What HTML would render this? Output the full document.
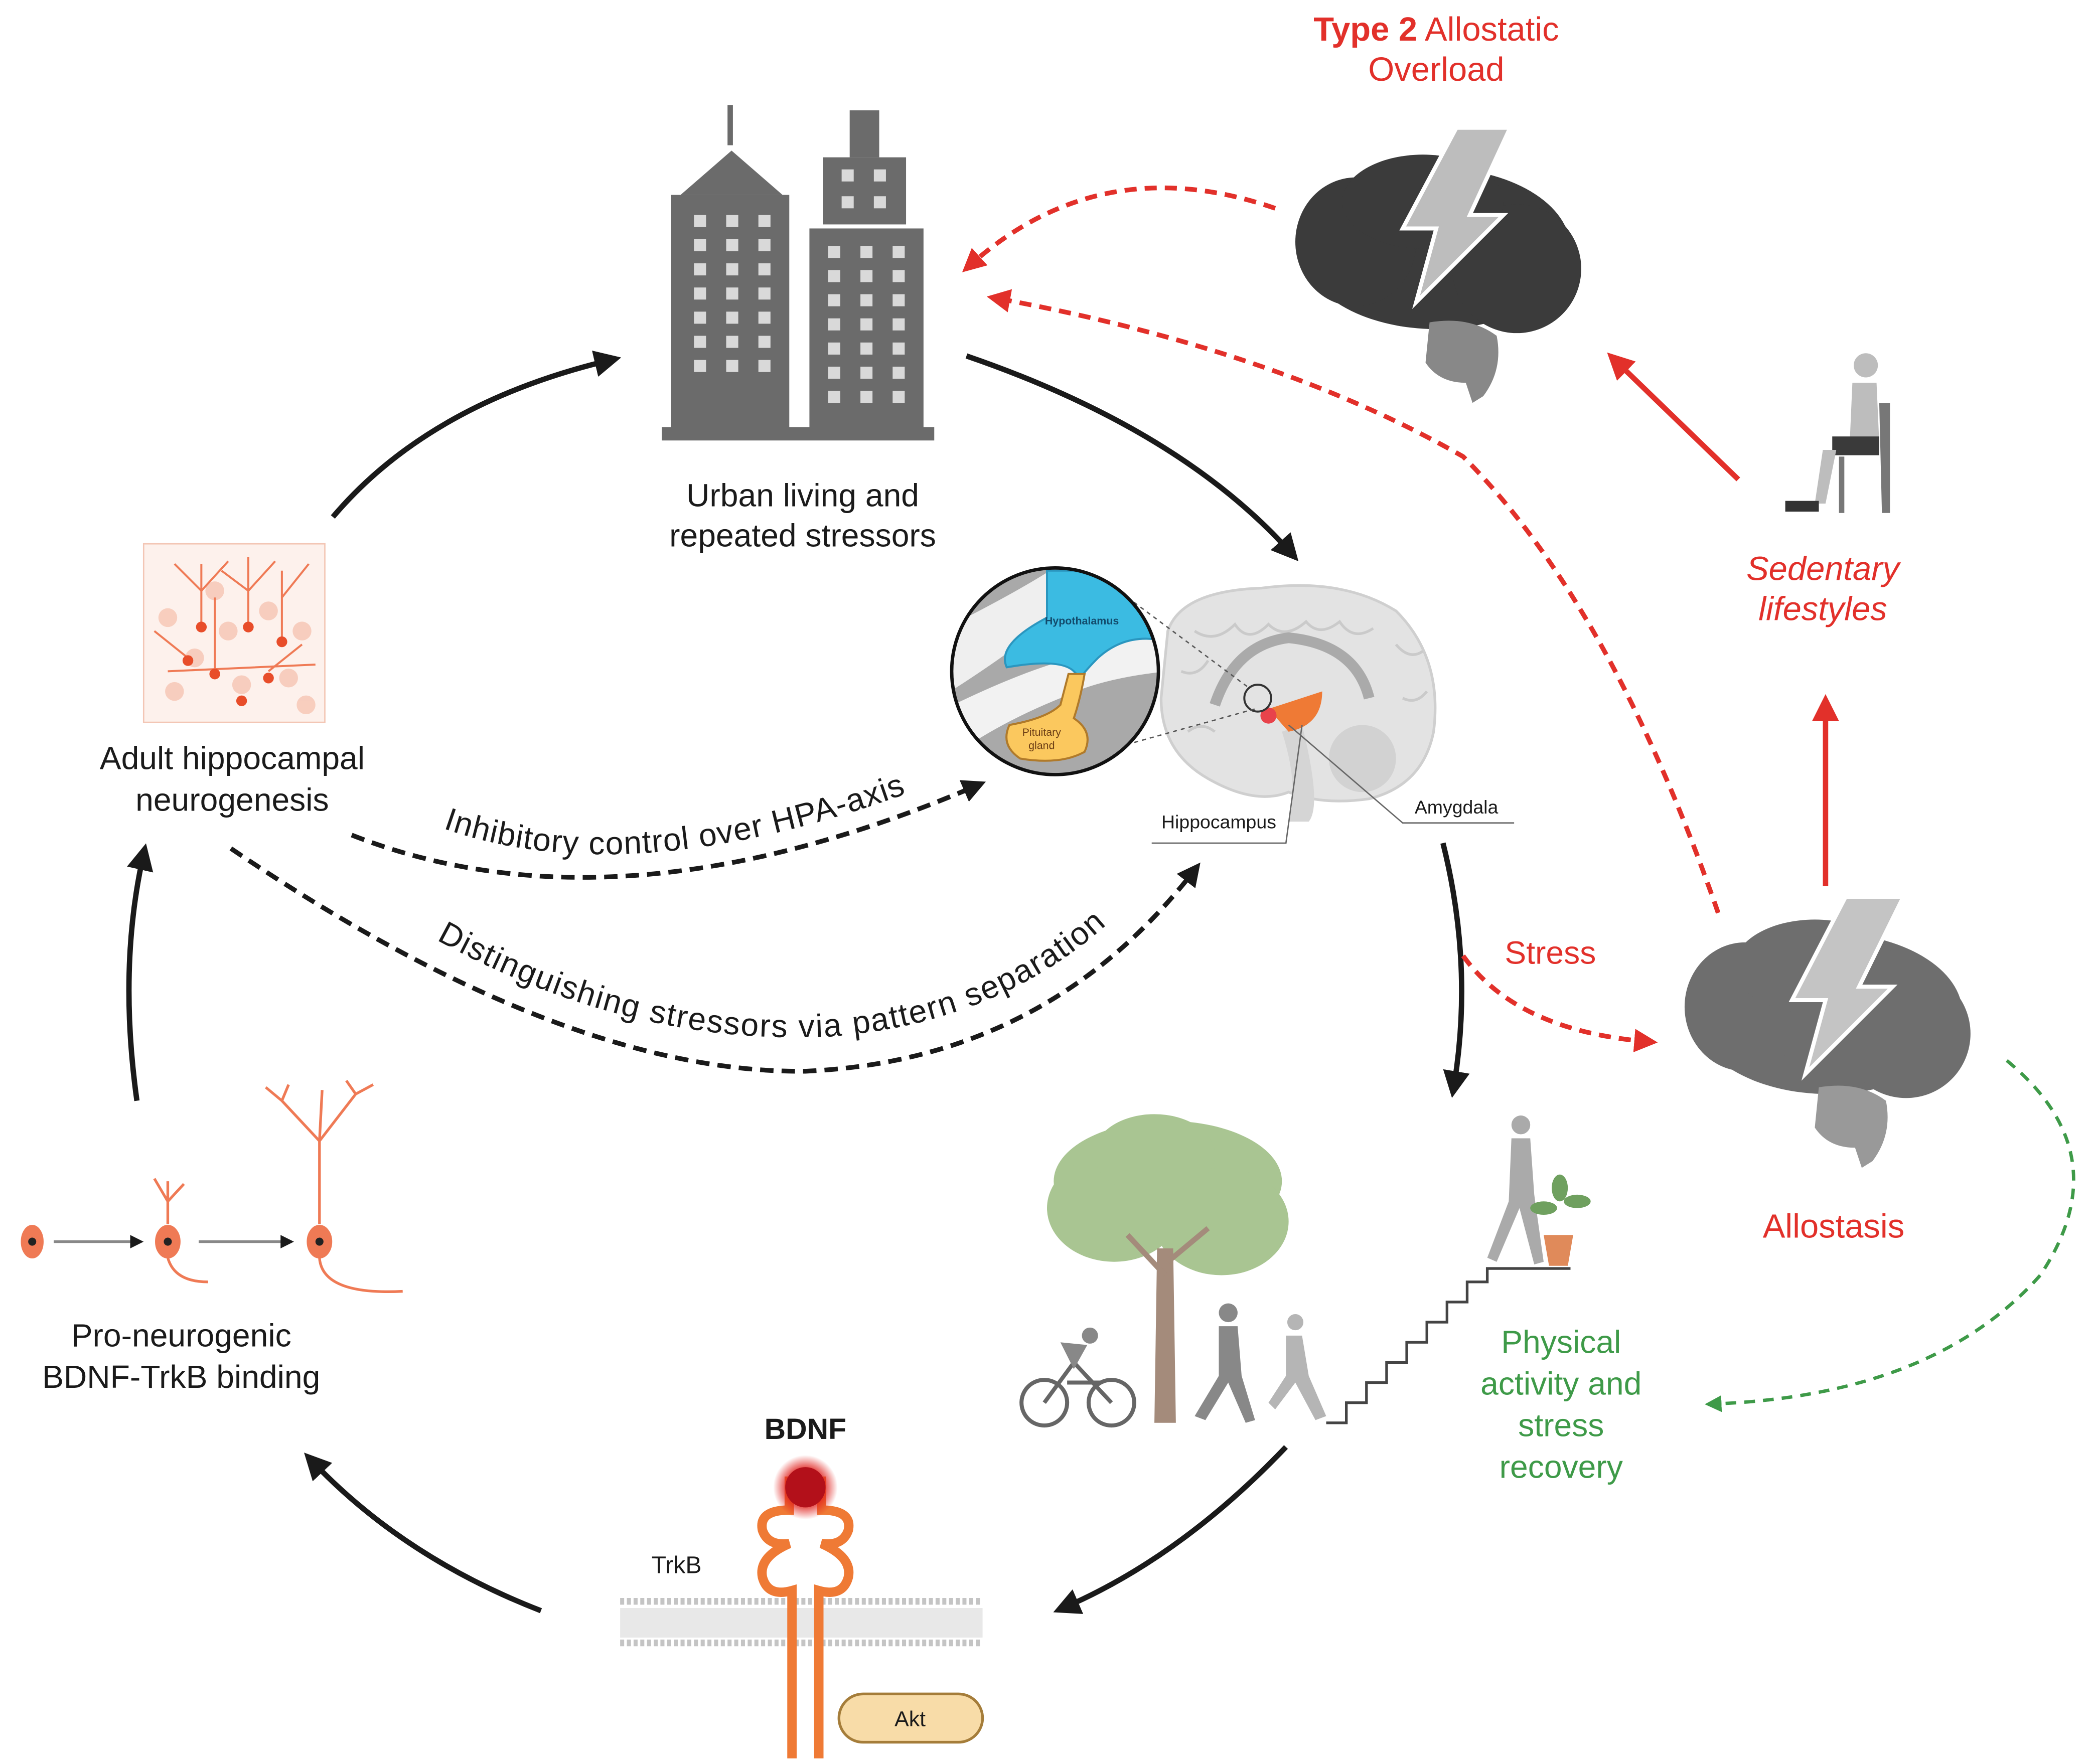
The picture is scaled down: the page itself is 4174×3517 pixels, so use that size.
<!DOCTYPE html>
<html><head><meta charset="utf-8"><style>
html,body{margin:0;padding:0;background:#fff;}
svg{display:block;}
text{font-family:"Liberation Sans",sans-serif;}
</style></head><body>
<svg width="4174" height="3517" viewBox="0 0 1560 1314" xmlns="http://www.w3.org/2000/svg">
<defs>
<marker id="ab" viewBox="0 0 10 10" refX="6" refY="5" markerWidth="5" markerHeight="5" orient="auto"><path d="M0,0 L10,5 L0,10 z" fill="#1a1a1a"/></marker>
<marker id="ar" viewBox="0 0 10 10" refX="6" refY="5" markerWidth="5" markerHeight="5" orient="auto"><path d="M0,0 L10,5 L0,10 z" fill="#e2302a"/></marker>
<marker id="ag" viewBox="0 0 10 10" refX="6" refY="5" markerWidth="5" markerHeight="5" orient="auto"><path d="M0,0 L10,5 L0,10 z" fill="#3e9a48"/></marker>
<radialGradient id="glow"><stop offset="0.5" stop-color="#e0201c"/><stop offset="1" stop-color="#e0201c" stop-opacity="0"/></radialGradient>
</defs>

<!-- title -->
<text x="1070" y="30" font-size="25" fill="#e2302a" text-anchor="middle"><tspan font-weight="bold">Type 2</tspan> Allostatic</text>
<text x="1070" y="60" font-size="25" fill="#e2302a" text-anchor="middle">Overload</text>

<!-- top dark brain -->
<g fill="#3b3b3b">
<ellipse cx="1070" cy="185" rx="100" ry="60"/>
<ellipse cx="1010" cy="180" rx="45" ry="48"/>
<ellipse cx="1130" cy="200" rx="48" ry="48"/>
<ellipse cx="1060" cy="150" rx="60" ry="35"/>
</g>
<path d="M1065,240 q30,-5 50,10 q5,25 -10,45 l-8,5 l-5,-15 q-20,0 -30,-15 z" fill="#888"/>
<path d="M1085,95 L1125,95 L1095,160 L1120,160 L1055,225 L1070,170 L1045,170 z" fill="#bdbdbd" stroke="#fff" stroke-width="3"/>

<!-- buildings -->
<g fill="#6b6b6b">
<rect x="542" y="78" width="4" height="30"/>
<polygon points="507,145 545,112 583,145"/>
<rect x="500" y="145" width="88" height="175"/>
<rect x="633" y="82" width="22" height="35"/>
<rect x="613" y="117" width="62" height="50"/>
<rect x="603" y="170" width="85" height="150"/>
<rect x="493" y="318" width="203" height="10"/>
</g>
<g fill="#d9d9d9">
<rect x="517" y="160" width="9" height="9"/><rect x="541" y="160" width="9" height="9"/><rect x="565" y="160" width="9" height="9"/>
<rect x="517" y="178" width="9" height="9"/><rect x="541" y="178" width="9" height="9"/><rect x="565" y="178" width="9" height="9"/>
<rect x="517" y="196" width="9" height="9"/><rect x="541" y="196" width="9" height="9"/><rect x="565" y="196" width="9" height="9"/>
<rect x="517" y="214" width="9" height="9"/><rect x="541" y="214" width="9" height="9"/><rect x="565" y="214" width="9" height="9"/>
<rect x="517" y="232" width="9" height="9"/><rect x="541" y="232" width="9" height="9"/><rect x="565" y="232" width="9" height="9"/>
<rect x="517" y="250" width="9" height="9"/><rect x="541" y="250" width="9" height="9"/><rect x="565" y="250" width="9" height="9"/>
<rect x="517" y="268" width="9" height="9"/><rect x="541" y="268" width="9" height="9"/><rect x="565" y="268" width="9" height="9"/>
<rect x="627" y="126" width="9" height="9"/><rect x="651" y="126" width="9" height="9"/>
<rect x="627" y="146" width="9" height="9"/><rect x="651" y="146" width="9" height="9"/>
<rect x="617" y="183" width="9" height="9"/><rect x="641" y="183" width="9" height="9"/><rect x="665" y="183" width="9" height="9"/>
<rect x="617" y="201" width="9" height="9"/><rect x="641" y="201" width="9" height="9"/><rect x="665" y="201" width="9" height="9"/>
<rect x="617" y="219" width="9" height="9"/><rect x="641" y="219" width="9" height="9"/><rect x="665" y="219" width="9" height="9"/>
<rect x="617" y="237" width="9" height="9"/><rect x="641" y="237" width="9" height="9"/><rect x="665" y="237" width="9" height="9"/>
<rect x="617" y="255" width="9" height="9"/><rect x="641" y="255" width="9" height="9"/><rect x="665" y="255" width="9" height="9"/>
<rect x="617" y="273" width="9" height="9"/><rect x="641" y="273" width="9" height="9"/><rect x="665" y="273" width="9" height="9"/>
<rect x="617" y="291" width="9" height="9"/><rect x="641" y="291" width="9" height="9"/><rect x="665" y="291" width="9" height="9"/>
</g>
<text x="598" y="377" font-size="24" fill="#1a1a1a" text-anchor="middle">Urban living and</text>
<text x="598" y="407" font-size="24" fill="#1a1a1a" text-anchor="middle">repeated stressors</text>

<!-- black cycle arrows -->
<g fill="none" stroke="#1a1a1a" stroke-width="4">
<path d="M248,385 Q320,300 455,268" marker-end="url(#ab)"/>
<path d="M720,265 Q880,320 962,412" marker-end="url(#ab)"/>
<path d="M1075,628 Q1098,720 1083,810" marker-end="url(#ab)"/>
<path d="M958,1078 Q880,1160 792,1198" marker-end="url(#ab)"/>
<path d="M403,1200 Q300,1160 232,1088" marker-end="url(#ab)"/>
<path d="M102,820 Q88,720 107,636" marker-end="url(#ab)"/>
</g>

<!-- neurogenesis box -->
<rect x="107" y="405" width="135" height="133" fill="#fdf1ec" stroke="#f3c6b5" stroke-width="1"/>
<g fill="#f6c5b3" opacity="0.8">
<circle cx="125" cy="460" r="7"/><circle cx="145" cy="490" r="7"/><circle cx="170" cy="470" r="7"/><circle cx="200" cy="455" r="7"/><circle cx="225" cy="470" r="7"/><circle cx="130" cy="515" r="7"/><circle cx="180" cy="510" r="7"/><circle cx="215" cy="505" r="7"/><circle cx="160" cy="440" r="7"/><circle cx="228" cy="525" r="7"/>
</g>
<g stroke="#ef7a55" stroke-width="1.5" fill="none">
<path d="M150,465 V420 M150,440 L130,420 M150,440 L170,418 M185,465 V415 M185,440 L205,418 M185,440 L165,425 M210,475 V425 M210,445 L230,420 M160,500 V445 M200,500 L225,480 M140,490 L115,470 M125,500 L235,495"/>
</g>
<g fill="#e84d2a"><circle cx="150" cy="467" r="4"/><circle cx="185" cy="467" r="4"/><circle cx="210" cy="478" r="4"/><circle cx="160" cy="502" r="4"/><circle cx="200" cy="505" r="4"/><circle cx="140" cy="492" r="4"/><circle cx="180" cy="522" r="4"/></g>
<text x="173" y="573" font-size="24" fill="#1a1a1a" text-anchor="middle">Adult hippocampal</text>
<text x="173" y="604" font-size="24" fill="#1a1a1a" text-anchor="middle">neurogenesis</text>

<!-- sagittal brain -->
<path d="M870,470 Q880,440 940,438 Q1000,430 1040,455 Q1075,490 1068,545 Q1060,585 1020,595 Q985,600 960,590 Q935,600 900,580 Q865,560 865,520 z" fill="#e3e3e3" stroke="#cfcfcf" stroke-width="2"/>
<g fill="none" stroke="#cacaca" stroke-width="2"><path d="M890,470 q15,10 30,-5 q10,15 25,0 q12,12 28,-2 q10,12 25,0 q10,15 25,5"/><path d="M880,500 q12,5 20,-8 M1040,480 q10,12 20,5 M1045,520 q10,5 18,-5 M885,545 q10,-8 20,0"/></g>
<path d="M905,525 Q920,480 960,475 Q1010,480 1020,520" fill="none" stroke="#aaa" stroke-width="8"/>
<path d="M970,540 Q985,600 975,612 L960,612 Q968,585 955,545 z" fill="#d5d5d5"/>
<ellipse cx="1015" cy="565" rx="25" ry="25" fill="#d2d2d2"/>
<path d="M945,528 L985,515 Q985,540 960,545 Z" fill="#ef7a35"/>
<circle cx="945" cy="533" r="6" fill="#e8434b"/>
<circle cx="937" cy="520" r="10" fill="none" stroke="#333" stroke-width="1.5"/>
<g stroke="#555" stroke-width="1" stroke-dasharray="3,3"><line x1="840" y1="445" x2="930" y2="512"/><line x1="845" y1="553" x2="935" y2="528"/></g>
<g stroke="#666" stroke-width="1" fill="none"><path d="M858,628 H958 L970,540"/><path d="M1128,613 H1045 L960,540"/></g>
<text x="908" y="617" font-size="14" fill="#1a1a1a" text-anchor="middle">Hippocampus</text>
<text x="1085" y="606" font-size="14" fill="#1a1a1a" text-anchor="middle">Amygdala</text>

<!-- inset circle -->
<clipPath id="cc"><circle cx="786" cy="500" r="77"/></clipPath>
<g clip-path="url(#cc)">
<rect x="700" y="420" width="170" height="170" fill="#a9a9a9"/>
<path d="M700,470 Q760,440 790,420 L830,420 Q780,470 700,520 z" fill="#efefef"/>
<path d="M700,530 Q760,500 800,490 Q830,480 870,470 L870,500 Q820,505 790,520 Q740,540 700,570z" fill="#f2f2f2"/>
<path d="M780,425 L870,425 L870,478 Q840,470 818,490 Q808,500 805,505 L800,500 Q790,490 750,497 Q742,480 780,460 z" fill="#3bbbe2" stroke="#2a96bf" stroke-width="1.5"/>
<path d="M796,502 L808,502 Q805,520 800,535 Q815,545 808,560 Q790,570 760,565 Q745,555 752,540 Q780,535 790,525 z" fill="#fbc85e" stroke="#b07a2a" stroke-width="1.5"/>
</g>
<circle cx="786" cy="500" r="77" fill="none" stroke="#111" stroke-width="2.5"/>
<text x="806" y="465" font-size="8" fill="#124a6b" font-weight="bold" text-anchor="middle">Hypothalamus</text>
<text x="776" y="548" font-size="8" fill="#6b3d14" text-anchor="middle">Pituitary</text>
<text x="776" y="558" font-size="8" fill="#6b3d14" text-anchor="middle">gland</text>

<!-- dashed black curves with text -->
<g fill="none" stroke="#1a1a1a" stroke-width="3.5" stroke-dasharray="10,6">
<path d="M262,622 Q460,700 728,585" marker-end="url(#ab)"/>
<path d="M172,632 Q420,800 600,798 Q780,790 890,648" marker-end="url(#ab)"/>
</g>
<path id="t1" d="M330,617 Q480,670 710,578" fill="none"/>
<path id="t2" d="M325,700 Q470,780 620,772 Q770,760 860,652" fill="none"/>
<text font-size="24" fill="#1a1a1a" letter-spacing="0.6"><textPath href="#t1">Inhibitory control over HPA-axis</textPath></text>
<text font-size="24" fill="#1a1a1a" letter-spacing="0.9"><textPath href="#t2">Distinguishing stressors via pattern separation</textPath></text>

<!-- stress -->
<text x="1155" y="718" font-size="24" fill="#e2302a" text-anchor="middle">Stress</text>
<path d="M1090,712 Q1130,768 1228,776" fill="none" stroke="#e2302a" stroke-width="3.5" stroke-dasharray="9,6" marker-end="url(#ar)"/>

<!-- allostasis brain -->
<g fill="#6e6e6e">
<ellipse cx="1362" cy="755" rx="100" ry="60"/>
<ellipse cx="1300" cy="750" rx="45" ry="48"/>
<ellipse cx="1420" cy="770" rx="48" ry="48"/>
<ellipse cx="1352" cy="720" rx="60" ry="35"/>
</g>
<path d="M1355,810 q30,-5 50,10 q5,25 -10,45 l-8,5 l-5,-15 q-20,0 -30,-15 z" fill="#999"/>
<path d="M1375,668 L1418,668 L1385,735 L1410,735 L1345,800 L1360,745 L1335,745 z" fill="#c4c4c4" stroke="#fff" stroke-width="3"/>
<text x="1366" y="922" font-size="25" fill="#e2302a" text-anchor="middle">Allostasis</text>

<!-- red arrows -->
<line x1="1360" y1="660" x2="1360" y2="525" stroke="#e2302a" stroke-width="4" marker-end="url(#ar)"/>
<line x1="1295" y1="357" x2="1203" y2="268" stroke="#e2302a" stroke-width="4" marker-end="url(#ar)"/>
<path d="M1280,680 Q1200,450 1090,340 Q950,260 742,222" fill="none" stroke="#e2302a" stroke-width="3.5" stroke-dasharray="9,6" marker-end="url(#ar)"/>
<path d="M950,155 Q820,110 722,198" fill="none" stroke="#e2302a" stroke-width="3.5" stroke-dasharray="9,6" marker-end="url(#ar)"/>
<text x="1358" y="432" font-size="25" fill="#e2302a" font-style="italic" text-anchor="middle">Sedentary</text>
<text x="1358" y="462" font-size="25" fill="#e2302a" font-style="italic" text-anchor="middle">lifestyles</text>

<!-- sitting person -->
<g>
<circle cx="1390" cy="272" r="9" fill="#bdbdbd"/>
<path d="M1380,285 L1398,285 L1400,330 L1378,330 z" fill="#bdbdbd"/>
<rect x="1365" y="325" width="35" height="14" fill="#3a3a3a"/>
<path d="M1368,335 L1360,375 L1352,375 L1358,335 z" fill="#bdbdbd"/>
<rect x="1330" y="373" width="25" height="8" fill="#333"/>
<path d="M1400,300 L1408,300 L1408,382 L1402,382 z M1370,340 L1374,340 L1374,382 L1370,382 z" fill="#777"/>
</g>

<!-- green -->
<path d="M1495,790 Q1580,860 1520,950 Q1440,1040 1275,1046" fill="none" stroke="#3e9a48" stroke-width="2.5" stroke-dasharray="8,6" marker-end="url(#ag)"/>
<g font-size="24" fill="#3e9a48" text-anchor="middle">
<text x="1163" y="1008">Physical</text><text x="1163" y="1039">activity and</text><text x="1163" y="1070">stress</text><text x="1163" y="1101">recovery</text>
</g>

<!-- tree -->
<g fill="#a9c592">
<ellipse cx="870" cy="880" rx="85" ry="45"/><ellipse cx="830" cy="900" rx="50" ry="40"/><ellipse cx="910" cy="910" rx="50" ry="40"/><ellipse cx="860" cy="860" rx="45" ry="30"/>
</g>
<path d="M862,930 L874,930 L876,1060 L860,1060 z" fill="#a48b7b"/>
<path d="M868,950 L840,920 M870,940 L900,915" stroke="#a48b7b" stroke-width="4"/>
<!-- cyclist -->
<g fill="none" stroke="#666" stroke-width="3"><circle cx="778" cy="1045" r="17"/><circle cx="828" cy="1045" r="17"/><path d="M778,1045 L800,1015 L828,1045 M795,1030 L820,1030"/></g>
<circle cx="812" cy="995" r="6" fill="#888"/><path d="M790,1000 L810,1002 L800,1020 z" fill="#888"/>
<!-- walkers -->
<g fill="#888"><circle cx="915" cy="978" r="7"/><path d="M908,988 L922,988 L925,1025 L935,1058 L928,1060 L915,1030 L898,1058 L890,1055 L908,1025 z"/></g>
<g fill="#b5b5b5"><circle cx="965" cy="985" r="6"/><path d="M958,995 L970,995 L975,1025 L988,1055 L980,1058 L965,1030 L950,1050 L945,1045 L958,1025 z"/></g>
<!-- stairs -->
<path d="M988,1060 H1003 V1045 H1018 V1030 H1033 V1015 H1048 V1000 H1063 V985 H1078 V970 H1093 V955 H1108 V945 H1170" fill="none" stroke="#444" stroke-width="2"/>
<g fill="#aaa"><circle cx="1133" cy="838" r="7"/><path d="M1126,848 L1140,848 L1143,890 L1150,940 L1143,942 L1132,900 L1115,940 L1108,937 L1124,895 z"/></g>
<path d="M1150,920 L1172,920 L1168,943 L1154,943 z" fill="#e08a5a"/>
<g fill="#6fa05f"><ellipse cx="1150" cy="900" rx="10" ry="5"/><ellipse cx="1175" cy="895" rx="10" ry="5"/><ellipse cx="1162" cy="885" rx="6" ry="10"/></g>

<!-- neurons sequence -->
<g fill="#ef7a55" stroke="#ef7a55">
<ellipse cx="24" cy="925" rx="8" ry="12"/>
<line x1="40" y1="925" x2="103" y2="925" stroke="#888" stroke-width="2" marker-end="url(#ab)"/>
<ellipse cx="125" cy="925" rx="9" ry="12"/>
<path d="M125,912 V880 M125,895 L115,878 M125,895 L137,882 M125,937 Q130,955 155,955" fill="none" stroke-width="2"/>
<line x1="148" y1="925" x2="215" y2="925" stroke="#888" stroke-width="2" marker-end="url(#ab)"/>
<ellipse cx="238" cy="925" rx="9" ry="12"/>
<path d="M238,912 V850 M238,850 L210,820 M238,850 L265,815 M210,820 L198,810 M210,820 L215,808 M265,815 L278,808 M265,815 L258,805 M238,850 L240,812 M238,937 Q240,965 300,962" fill="none" stroke-width="2"/>
</g>
<g fill="#222"><circle cx="24" cy="925" r="3"/><circle cx="125" cy="925" r="3"/><circle cx="238" cy="925" r="3"/></g>
<text x="135" y="1003" font-size="24" fill="#1a1a1a" text-anchor="middle">Pro-neurogenic</text>
<text x="135" y="1034" font-size="24" fill="#1a1a1a" text-anchor="middle">BDNF-TrkB binding</text>

<!-- membrane -->
<g stroke="#c4c4c4" stroke-width="5">
<line x1="462" y1="1193" x2="732" y2="1193" stroke-dasharray="3,2"/>
<line x1="462" y1="1224" x2="732" y2="1224" stroke-dasharray="3,2"/>
</g>
<rect x="462" y="1198" width="270" height="22" fill="#e8e8e8"/>
<text x="504" y="1172" font-size="18" fill="#1a1a1a" text-anchor="middle">TrkB</text>
<text x="600" y="1072" font-size="22" font-weight="bold" fill="#1a1a1a" text-anchor="middle">BDNF</text>
<!-- receptor -->
<g fill="none" stroke="#ef7a35" stroke-width="7">
<path d="M588,1100 V1125 Q565,1125 568,1140 Q572,1152 588,1150 Q565,1160 568,1175 Q572,1190 590,1185 V1310"/>
<path d="M612,1100 V1125 Q635,1125 632,1140 Q628,1152 612,1150 Q635,1160 632,1175 Q628,1190 610,1185 V1310"/>
</g>
<circle cx="600" cy="1108" r="24" fill="url(#glow)"/>
<circle cx="600" cy="1108" r="15" fill="#b3101a"/>
<rect x="625" y="1262" width="107" height="36" rx="18" fill="#f8dca8" stroke="#a57d3a" stroke-width="2"/>
<text x="678" y="1286" font-size="16" fill="#1a1a1a" text-anchor="middle">Akt</text>
</svg>
</body></html>
